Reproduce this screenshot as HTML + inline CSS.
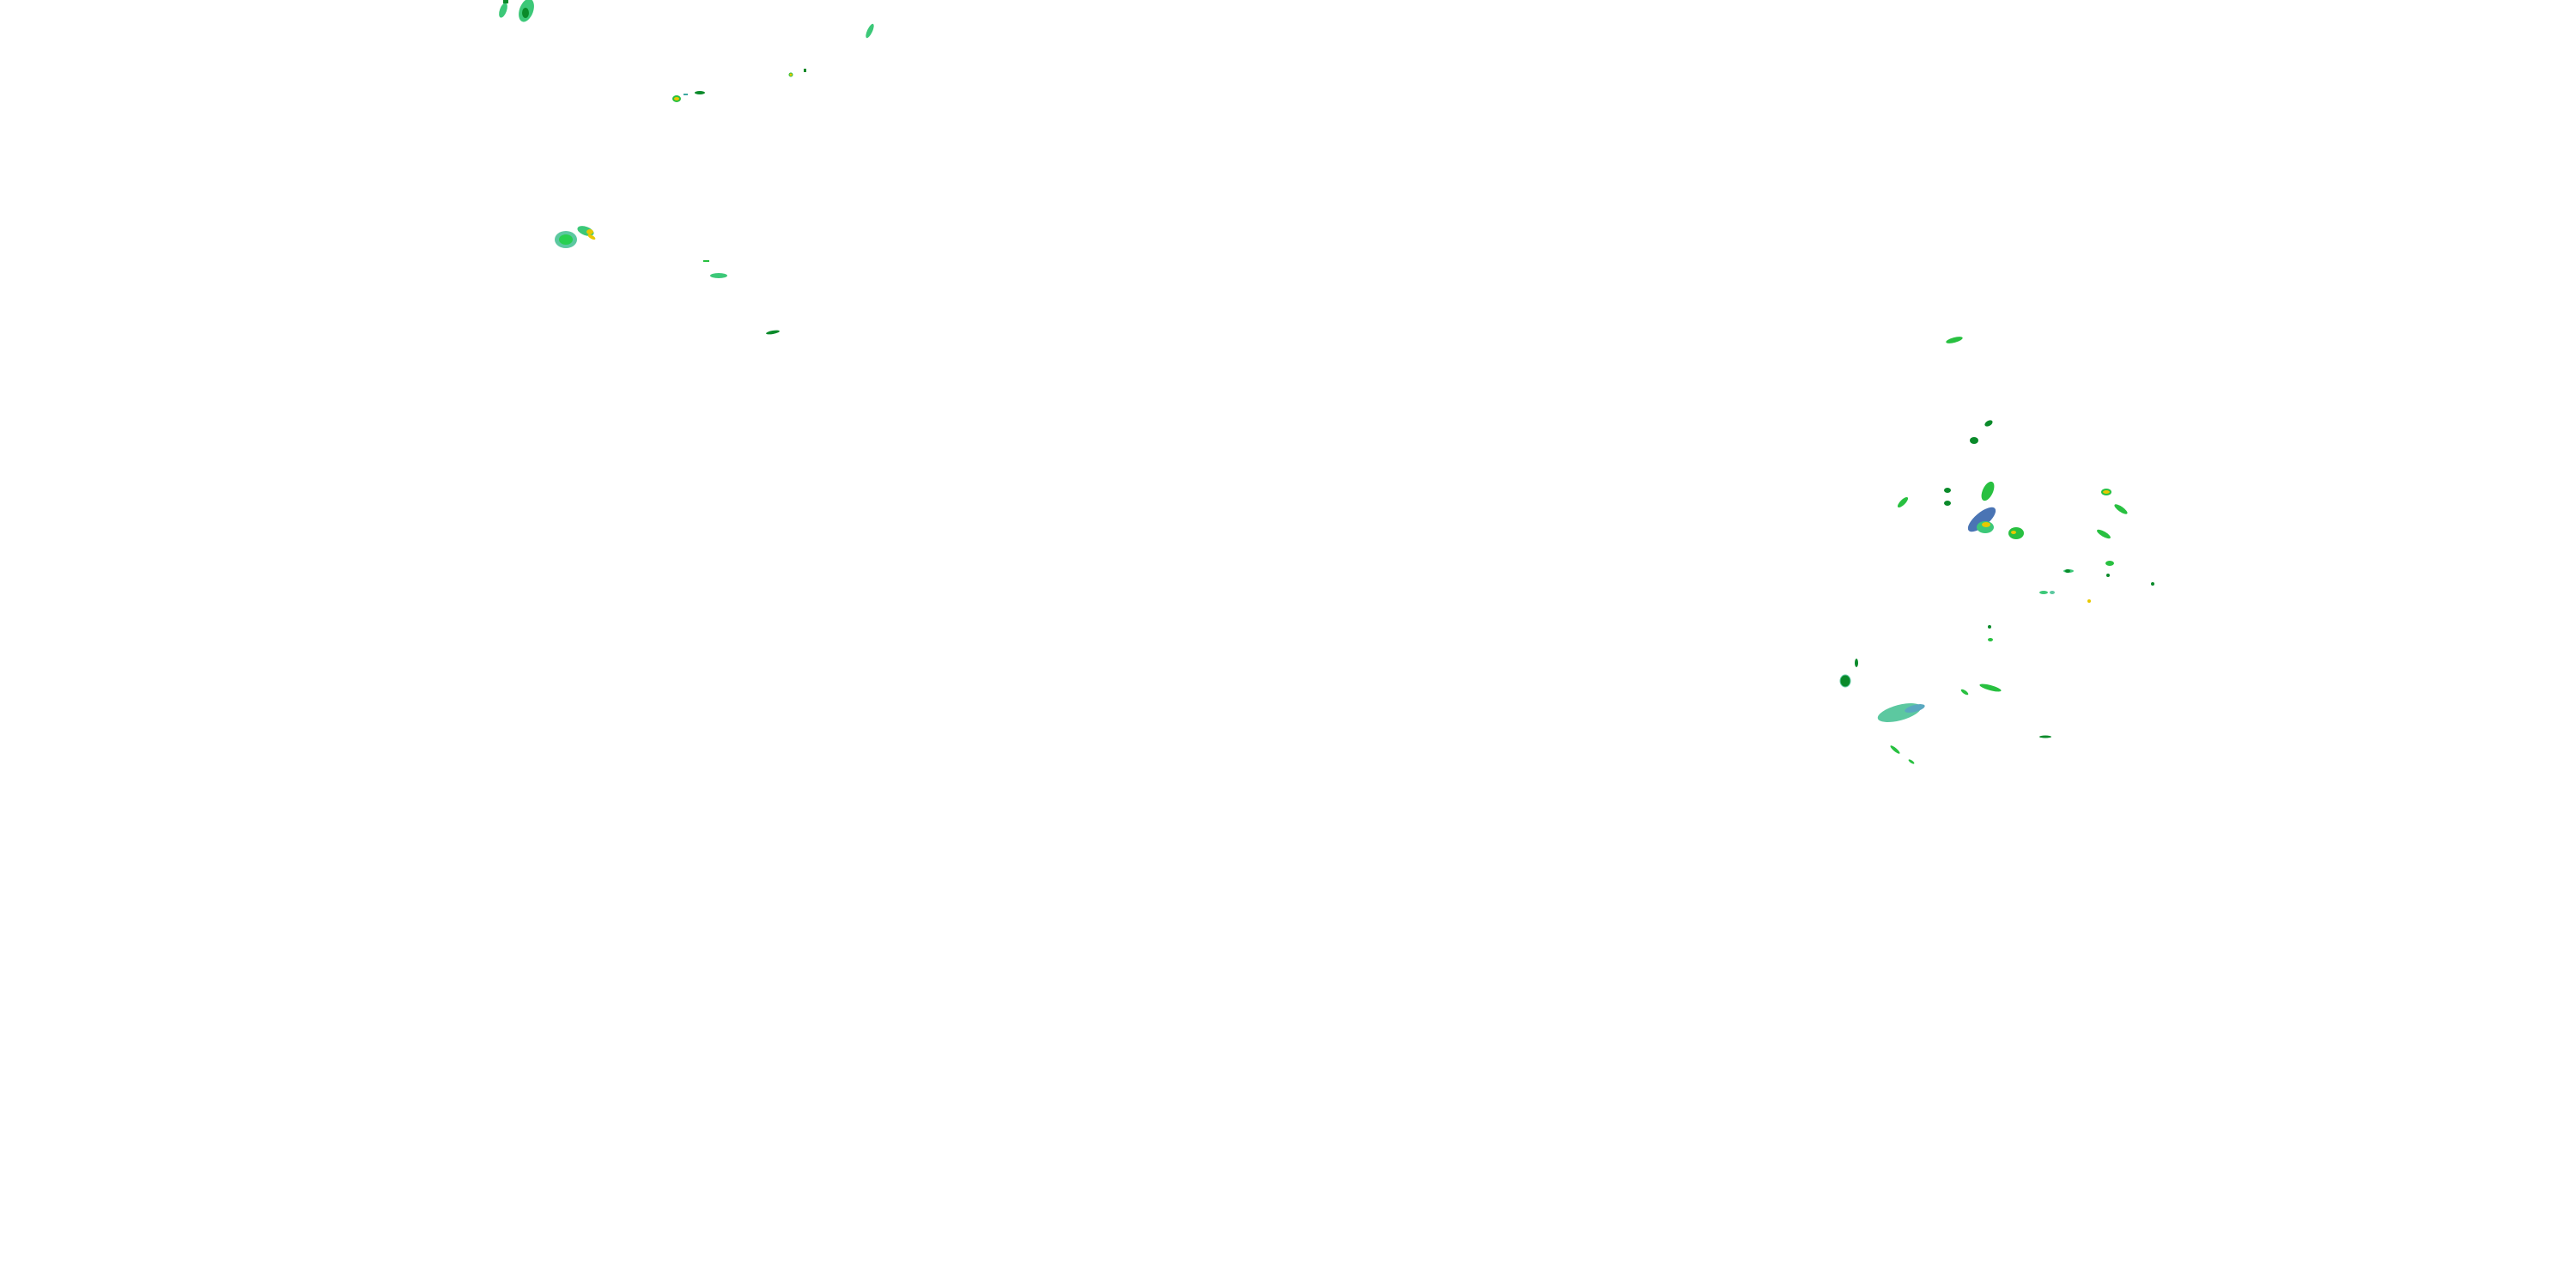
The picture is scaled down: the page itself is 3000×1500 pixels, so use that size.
<!DOCTYPE html>
<html><head><meta charset="utf-8"><style>
html,body{margin:0;padding:0;background:#fff;width:3000px;height:1500px;overflow:hidden}
svg{display:block}
</style></head><body>
<svg width="3000" height="1500" viewBox="0 0 3000 1500" xmlns="http://www.w3.org/2000/svg">
<g>
<!-- top-left cluster -->
<ellipse cx="613" cy="12" rx="8" ry="14" fill="#3cc878" transform="rotate(20 613 12)"/>
<ellipse cx="612" cy="15" rx="4" ry="6" fill="#0a8a2a"/>
<ellipse cx="586" cy="12" rx="4" ry="9" fill="#3cc878" transform="rotate(20 586 12)"/>
<rect x="586" y="0" width="6" height="4" fill="#0a8a2a"/>
<ellipse cx="659" cy="279" rx="13" ry="10" fill="#5cc8a0"/>
<ellipse cx="659" cy="279" rx="8" ry="6" fill="#28d050"/>
<ellipse cx="682" cy="269" rx="10" ry="5" fill="#3cc878" transform="rotate(20 682 269)"/>
<ellipse cx="687" cy="270" rx="4" ry="3" fill="#e8c800"/>
<ellipse cx="689" cy="276" rx="5" ry="2" fill="#e8c800" transform="rotate(30 689 276)"/>
<ellipse cx="788" cy="115" rx="4" ry="3" fill="#e8c800" stroke="#28c040" stroke-width="2"/>
<rect x="796" y="109" width="5" height="2" fill="#3ca8a0"/>
<ellipse cx="815" cy="108" rx="6" ry="2" fill="#0a8a2a"/>
<ellipse cx="921" cy="87" rx="2" ry="2" fill="#e8c800" stroke="#28c040"/>
<rect x="936" y="80" width="3" height="4" fill="#0a8a2a"/>
<ellipse cx="1013" cy="36" rx="3" ry="9" fill="#3cc878" transform="rotate(25 1013 36)"/>
<rect x="819" y="303" width="7" height="2" fill="#28c040"/>
<ellipse cx="837" cy="321" rx="10" ry="3" fill="#3cc878"/>
<ellipse cx="900" cy="387" rx="8" ry="2" fill="#0a8a2a" transform="rotate(-10 900 387)"/>
<!-- right cluster -->
<ellipse cx="2276" cy="396" rx="10" ry="3" fill="#28c040" transform="rotate(-15 2276 396)"/>
<ellipse cx="2316" cy="493" rx="5" ry="3" fill="#0a8a2a" transform="rotate(-30 2316 493)"/>
<ellipse cx="2299" cy="513" rx="5" ry="4" fill="#0a8a2a"/>
<ellipse cx="2216" cy="585" rx="8" ry="3" fill="#28c040" transform="rotate(-45 2216 585)"/>
<ellipse cx="2268" cy="571" rx="4" ry="3" fill="#0a8a2a"/>
<ellipse cx="2268" cy="586" rx="4" ry="3" fill="#0a8a2a"/>
<ellipse cx="2315" cy="572" rx="6" ry="12" fill="#28c040" transform="rotate(25 2315 572)"/>
<ellipse cx="2308" cy="605" rx="20" ry="8" fill="#4a74b4" transform="rotate(-40 2308 605)"/>
<ellipse cx="2312" cy="614" rx="10" ry="7" fill="#3cc878"/>
<ellipse cx="2313" cy="611" rx="5" ry="3" fill="#e8c800"/>
<ellipse cx="2348" cy="621" rx="9" ry="7" fill="#28c040"/>
<ellipse cx="2345" cy="620" rx="3" ry="2" fill="#e8c800"/>
<ellipse cx="2453" cy="573" rx="5" ry="3" fill="#e8c800" stroke="#28c040" stroke-width="2"/>
<ellipse cx="2470" cy="593" rx="9" ry="3" fill="#28c040" transform="rotate(35 2470 593)"/>
<ellipse cx="2450" cy="622" rx="9" ry="3" fill="#28c040" transform="rotate(30 2450 622)"/>
<ellipse cx="2457" cy="656" rx="5" ry="3" fill="#28c040"/>
<ellipse cx="2409" cy="665" rx="6" ry="2" fill="#3cc878"/>
<ellipse cx="2162" cy="772" rx="2" ry="5" fill="#0a8a2a"/>
<ellipse cx="2149" cy="793" rx="6" ry="7" fill="#0a8a2a" stroke="#5cc8a0"/>
<ellipse cx="2212" cy="830" rx="26" ry="9" fill="#5cc8a0" transform="rotate(-15 2212 830)"/>
<ellipse cx="2230" cy="825" rx="12" ry="4" fill="#5aa8c0" transform="rotate(-15 2230 825)"/>
<ellipse cx="2318" cy="801" rx="13" ry="3" fill="#28c040" transform="rotate(15 2318 801)"/>
<ellipse cx="2288" cy="806" rx="5" ry="2" fill="#28c040" transform="rotate(35 2288 806)"/>
<ellipse cx="2382" cy="858" rx="7" ry="1.5" fill="#0a8a2a"/>
<ellipse cx="2207" cy="873" rx="7" ry="2" fill="#28c040" transform="rotate(40 2207 873)"/>
<ellipse cx="2226" cy="887" rx="4" ry="1.5" fill="#28c040" transform="rotate(35 2226 887)"/>
<ellipse cx="2317" cy="730" rx="2" ry="2" fill="#0a8a2a"/>
<ellipse cx="2318" cy="745" rx="3" ry="2" fill="#28c040"/>
<ellipse cx="2408" cy="665" rx="3" ry="2" fill="#0a8a2a"/>
<ellipse cx="2380" cy="690" rx="5" ry="2" fill="#3cc878"/>
<ellipse cx="2390" cy="690" rx="3" ry="2" fill="#5cc8a0"/>
<ellipse cx="2433" cy="700" rx="2" ry="2" fill="#e8c800"/>
<ellipse cx="2455" cy="670" rx="2" ry="2" fill="#0a8a2a"/>
<ellipse cx="2507" cy="680" rx="2" ry="2" fill="#0a8a2a"/>
</g>
</svg>
</body></html>
